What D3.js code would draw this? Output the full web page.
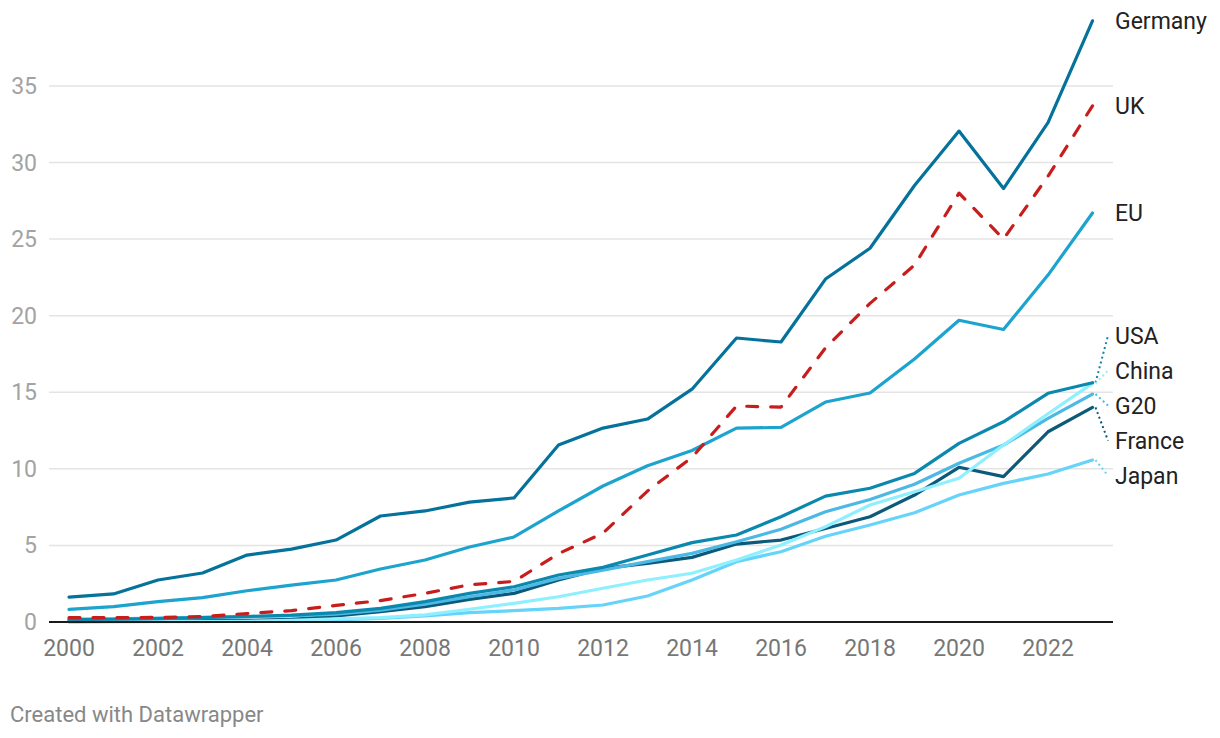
<!DOCTYPE html>
<html>
<head>
<meta charset="utf-8">
<script src="https://cdn.jsdelivr.net/npm/d3@7"></script>
<style>
  html, body { margin: 0; padding: 0; background: #fff; }
  svg { display: block; font-family: Roboto, "Noto Sans", sans-serif; }
</style>
</head>
<body>
<svg id="chart" width="1220" height="738"></svg>
<script>
// ---------- data ----------
const years = d3.range(2000, 2024);

const germany = [1.63, 1.83, 2.74, 3.2, 4.37, 4.76, 5.35, 6.92, 7.25, 7.83, 8.1, 11.55, 12.66, 13.25, 15.2, 18.54, 18.28, 22.39, 24.4, 28.5, 32.05, 28.3, 32.6, 39.25];
const uk      = [0.28, 0.28, 0.3, 0.35, 0.55, 0.74, 1.08, 1.4, 1.87, 2.43, 2.65, 4.46, 5.8, 8.55, 10.75, 14.1, 14.03, 17.9, 20.8, 23.3, 28.0, 25.0, 29.1, 33.7];
const eu      = [0.83, 1.0, 1.33, 1.59, 2.04, 2.41, 2.74, 3.46, 4.05, 4.9, 5.55, 7.25, 8.88, 10.2, 11.2, 12.66, 12.7, 14.36, 14.95, 17.17, 19.7, 19.1, 22.65, 26.7];
const usa     = [0.15, 0.18, 0.22, 0.28, 0.36, 0.45, 0.61, 0.89, 1.33, 1.87, 2.3, 3.07, 3.57, 4.37, 5.18, 5.68, 6.87, 8.22, 8.73, 9.7, 11.66, 13.07, 14.93, 15.62];
const china   = [0.01, 0.01, 0.02, 0.03, 0.05, 0.1, 0.2, 0.28, 0.46, 0.83, 1.22, 1.65, 2.2, 2.74, 3.18, 4.05, 5.03, 6.22, 7.64, 8.5, 9.38, 11.55, 13.6, 15.58];
const g20     = [0.18, 0.2, 0.25, 0.3, 0.35, 0.4, 0.52, 0.78, 1.17, 1.65, 2.09, 2.85, 3.39, 3.94, 4.48, 5.24, 6.05, 7.2, 8.0, 8.99, 10.36, 11.55, 13.3, 14.88];
const france  = [0.03, 0.04, 0.05, 0.07, 0.1, 0.17, 0.39, 0.67, 1.0, 1.48, 1.87, 2.74, 3.5, 3.83, 4.22, 5.09, 5.35, 6.1, 6.87, 8.29, 10.1, 9.49, 12.42, 14.01];
const japan   = [0.05, 0.06, 0.07, 0.08, 0.1, 0.11, 0.13, 0.24, 0.39, 0.61, 0.74, 0.89, 1.11, 1.7, 2.74, 3.94, 4.59, 5.6, 6.33, 7.13, 8.29, 9.05, 9.66, 10.57];

const seriesNames  = ["Japan", "France", "G20", "China", "USA", "EU", "UK", "Germany"];
const seriesValues = [japan, france, g20, china, usa, eu, uk, germany];
const seriesColors = ["#66d3fa", "#0b5a7a", "#4cb9e5", "#8ef0ff", "#0b88ae", "#1ca3ce", "#c71e1d", "#04729a"];
const seriesDashed = [false, false, false, false, false, false, true, false];

const yTicks = [0, 5, 10, 15, 20, 25, 30, 35];
const xTicks = d3.range(2000, 2023, 2);
const credit = "Created with Datawrapper";

// ---------- layout ----------
const svg = d3.select("#chart");
const x = d3.scaleLinear().domain([2000, 2023]).range([69, 1092.5]);
const y = d3.scaleLinear().domain([0, 35]).range([622, 85.9]);
const gridX0 = 49, gridX1 = 1113;

// gridlines
svg.append("g").selectAll("line").data(yTicks.filter(d => d > 0)).join("line")
  .attr("x1", gridX0).attr("x2", gridX1)
  .attr("y1", d => y(d)).attr("y2", d => y(d))
  .attr("stroke", "#e4e4e4").attr("stroke-width", 1.5);

// y tick labels
svg.append("g").selectAll("text").data(yTicks).join("text")
  .attr("x", 37).attr("y", d => y(d)).attr("dy", "0.35em")
  .attr("text-anchor", "end")
  .attr("font-size", 23).attr("fill", "#a3a3a3")
  .text(d => d);

// x tick labels
svg.append("g").selectAll("text").data(xTicks).join("text")
  .attr("x", d => x(d)).attr("y", 656)
  .attr("text-anchor", "middle")
  .attr("font-size", 23).attr("fill", "#777")
  .text(d => d);

// lines
const line = d3.line().x((d, i) => x(years[i])).y(d => y(d));
const series = seriesNames.map((name, i) => ({
  name, values: seriesValues[i], color: seriesColors[i], dashed: seriesDashed[i]
}));

svg.append("g").selectAll("path").data(series).join("path")
  .attr("d", d => line(d.values))
  .attr("fill", "none")
  .attr("stroke", d => d.color)
  .attr("stroke-width", 3.2)
  .attr("stroke-linejoin", "round")
  .attr("stroke-linecap", "round")
  .attr("stroke-dasharray", d => d.dashed ? "11,13" : null);

// baseline
svg.append("line")
  .attr("x1", gridX0).attr("x2", gridX1)
  .attr("y1", y(0)).attr("y2", y(0))
  .attr("stroke", "#1a1a1a").attr("stroke-width", 2);

// label placement (avoid overlap)
const gap = 35;
const items = series.map(s => ({ s, yEnd: y(s.values[s.values.length - 1]) }))
  .sort((a, b) => a.yEnd - b.yEnd);
let clusters = items.map(it => ({ items: [it], mean: it.yEnd }));
let changed = true;
while (changed) {
  changed = false;
  for (let i = 0; i < clusters.length - 1; i++) {
    const a = clusters[i], b = clusters[i + 1];
    const aBottom = a.mean + (a.items.length - 1) * gap / 2;
    const bTop = b.mean - (b.items.length - 1) * gap / 2;
    if (bTop - aBottom < gap) {
      const merged = a.items.concat(b.items);
      clusters.splice(i, 2, { items: merged, mean: d3.mean(merged, d => d.yEnd) });
      changed = true;
      break;
    }
  }
}
clusters.forEach(c => c.items.forEach((it, k) => {
  it.ly = c.mean + (k - (c.items.length - 1) / 2) * gap;
}));

const xEnd = x(2023);
const lab = svg.append("g");
items.forEach(it => {
  if (Math.abs(it.ly - it.yEnd) > 4) {
    lab.append("line")
      .attr("x1", xEnd + 3).attr("y1", it.yEnd)
      .attr("x2", xEnd + 15.5).attr("y2", it.ly)
      .attr("stroke", it.s.color).attr("stroke-width", 2)
      .attr("stroke-dasharray", "2,3");
  }
  lab.append("text")
    .attr("x", 1115).attr("y", it.ly).attr("dy", "0.35em")
    .attr("font-size", 23).attr("fill", "#222")
    .text(it.s.name);
});

// credit
svg.append("text")
  .attr("x", 10).attr("y", 722)
  .attr("font-size", 22).attr("fill", "#888")
  .text(credit);
</script>
</body>
</html>
